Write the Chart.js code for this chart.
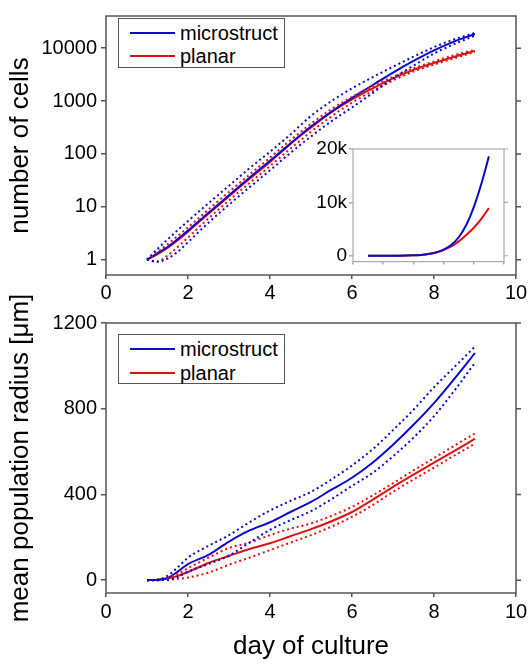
<!DOCTYPE html>
<html>
<head>
<meta charset="utf-8">
<script src="https://cdn.jsdelivr.net/npm/chart.js@4.4.0/dist/chart.umd.min.js"></script>
<style>
  body { margin: 0; background: #fff; }
  #wrap { position: relative; width: 531px; height: 666px; font-family: "Liberation Sans", Arial, sans-serif; }
  #wrap canvas { position: absolute; }
  .legend { position: absolute; width: 167px; height: 50px; box-sizing: border-box; border: 1px solid #555; background: #fff; }
  .legend .ln { position: absolute; left: 11px; width: 45px; height: 2px; }
  .legend .tx { position: absolute; left: 61px; font-size: 20px; line-height: 20px; color: #000; }
</style>
</head>
<body>
<div id="wrap">
  <canvas id="chartCells" width="531" height="310" style="left:0;top:0"></canvas>
  <canvas id="chartRadius" width="531" height="386" style="left:0;top:280px"></canvas>
  <canvas id="chartInset" width="210" height="140" style="left:300px;top:135px"></canvas>

  <div class="legend" style="left:118px;top:18px">
    <div class="ln" style="top:13px;background:#0a0acc"></div><div class="tx" style="top:4px">microstruct</div>
    <div class="ln" style="top:36px;background:#e01010"></div><div class="tx" style="top:27px">planar</div>
  </div>
  <div class="legend" style="left:118px;top:334px">
    <div class="ln" style="top:13px;background:#0a0acc"></div><div class="tx" style="top:4px">microstruct</div>
    <div class="ln" style="top:37px;background:#e01010"></div><div class="tx" style="top:28px">planar</div>
  </div>
</div>

<script>
// days of culture
const days = [1, 1.25, 1.5, 1.75, 2, 2.5, 3, 3.5, 4, 4.5, 5, 5.5, 6, 6.5, 7, 7.5, 8, 8.5, 9];

// number of cells (mean, upper, lower)
const cellsMicro   = [1, 1.32, 1.74, 2.45, 3.55, 7.76, 16.6, 35.5, 74.1, 158, 331, 631, 1148, 1995, 3467, 5754, 9120, 13490, 18620];
const cellsMicroHi = [1, 1.58, 2.4, 3.63, 5.37, 11.7, 25.1, 53.7, 110, 234, 525, 1000, 1738, 2818, 4467, 6918, 10470, 14790, 19500];
const cellsMicroLo = [1, 0.91, 1.05, 1.41, 2.14, 5.01, 11.0, 23.4, 49.0, 105, 214, 417, 759, 1413, 2692, 4677, 7943, 12020, 17380];
const cellsPlanar   = [1, 1.26, 1.66, 2.34, 3.39, 7.4, 15.8, 33.9, 70.8, 155, 316, 617, 1072, 1738, 2692, 3890, 5250, 6920, 8910];
const cellsPlanarHi = [1, 1.38, 1.95, 2.82, 4.07, 8.91, 19.1, 40.7, 85.1, 182, 372, 708, 1202, 1905, 2884, 4169, 5623, 7413, 9333];
const cellsPlanarLo = [1, 0.93, 1.2, 1.74, 2.63, 6.03, 13.2, 28.2, 58.9, 126, 263, 513, 933, 1549, 2455, 3631, 4898, 6457, 8511];

// mean population radius [um] (mean, upper, lower)
const radMicro   = [0, 1, 10, 40, 75, 118, 180, 232, 270, 318, 365, 422, 478, 548, 632, 725, 826, 940, 1060];
const radMicroHi = [0, 2, 20, 60, 105, 160, 210, 270, 325, 370, 412, 470, 535, 610, 700, 795, 900, 995, 1090];
const radMicroLo = [0, 0, 1, 15, 40, 75, 115, 175, 235, 280, 322, 378, 440, 500, 578, 665, 765, 885, 1015];
const radPlanar   = [0, 2, 8, 20, 38, 80, 113, 145, 172, 205, 238, 275, 318, 375, 435, 492, 548, 603, 660];
const radPlanarHi = [0, 2, 10, 30, 56, 105, 150, 175, 210, 240, 265, 300, 342, 395, 452, 512, 570, 628, 685];
const radPlanarLo = [0, 0, 2, 6, 12, 35, 72, 105, 140, 175, 210, 250, 295, 350, 412, 470, 525, 582, 637];

// ticks
const dayTicks = [0, 2, 4, 6, 8, 10];
const cellTicks = [1, 10, 100, 1000, 10000];
const radiusTicks = [0, 400, 800, 1200];
const insetTicks = [0, 10000, 20000];
const insetLabels = ['0', '10k', '20k'];

const BLUE = '#0a0acc';
const RED = '#e01010';
const AXIS = '#555';

Chart.defaults.font.family = '"Liberation Sans", Arial, sans-serif';
Chart.defaults.color = '#000';

function pts(vals) {
    return days.map((d, i) => ({ x: d, y: vals[i] }));
}

function serie(vals, color, dotted) {
    return {
        data: pts(vals),
        borderColor: color,
        borderWidth: 2,
        borderDash: dotted ? [2, 3] : [],
        pointRadius: 0,
        fill: false,
        cubicInterpolationMode: 'monotone'
    };
}

// box round the plot, with outward ticks on the right side
const framePlugin = {
    id: 'frame',
    afterDraw(chart, args, opts) {
        const { ctx, chartArea: a, scales: { y } } = chart;
        ctx.save();
        ctx.strokeStyle = opts.color;
        ctx.lineWidth = opts.width;
        ctx.strokeRect(a.left, a.top, a.right - a.left, a.bottom - a.top);
        ctx.beginPath();
        y.ticks.forEach(t => {
            const py = y.getPixelForValue(t.value);
            ctx.moveTo(a.right, py);
            ctx.lineTo(a.right + opts.tick, py);
        });
        ctx.stroke();
        ctx.restore();
    }
};

function axisGrid(color, len) {
    return { drawOnChartArea: false, drawTicks: true, tickLength: len, color: color, lineWidth: 1.5 };
}

// ---- top: number of cells ----
new Chart(document.getElementById('chartCells'), {
    type: 'line',
    data: {
        datasets: [
            serie(cellsMicroHi, BLUE, true),
            serie(cellsMicroLo, BLUE, true),
            serie(cellsPlanarHi, RED, true),
            serie(cellsPlanarLo, RED, true),
            serie(cellsMicro, BLUE, false),
            serie(cellsPlanar, RED, false)
        ]
    },
    options: {
        responsive: false,
        animation: false,
        layout: { padding: { top: 5, right: 15, left: 0, bottom: 0 } },
        plugins: { legend: { display: false }, tooltip: { enabled: false }, frame: { color: AXIS, width: 1.5, tick: 5 } },
        scales: {
            x: {
                type: 'linear', min: 0, max: 10,
                afterBuildTicks: s => { s.ticks = dayTicks.map(v => ({ value: v })); },
                afterFit: s => { s.height = 35; },
                grid: axisGrid(AXIS, 4),
                border: { display: false },
                ticks: { font: { size: 20 }, padding: 2, maxRotation: 0 }
            },
            y: {
                type: 'logarithmic', min: 0.513, max: 40700,
                afterBuildTicks: s => { s.ticks = cellTicks.map(v => ({ value: v })); },
                afterFit: s => { s.width = 106; },
                grid: axisGrid(AXIS, 5),
                border: { display: false },
                ticks: { font: { size: 20 }, padding: 4, callback: v => String(v) },
                title: { display: true, text: 'number of cells', font: { size: 26 }, padding: { top: 5, bottom: 0 } }
            }
        }
    },
    plugins: [framePlugin]
});

// ---- inset: number of cells, linear ----
new Chart(document.getElementById('chartInset'), {
    type: 'line',
    data: {
        datasets: [
            serie(cellsMicro, BLUE, false),
            serie(cellsPlanar, RED, false)
        ]
    },
    options: {
        responsive: false,
        animation: false,
        layout: { padding: { top: 14, right: 6, left: 0, bottom: 0 } },
        plugins: { legend: { display: false }, tooltip: { enabled: false }, frame: { color: '#aaa', width: 1.2, tick: 4 } },
        scales: {
            x: {
                type: 'linear', min: 0, max: 10,
                afterBuildTicks: s => { s.ticks = dayTicks.map(v => ({ value: v })); },
                afterFit: s => { s.height = 10; },
                grid: axisGrid('#aaa', 3),
                border: { display: false },
                ticks: { display: false }
            },
            y: {
                type: 'linear', min: -1100, max: 20000,
                afterBuildTicks: s => { s.ticks = insetTicks.map(v => ({ value: v })); },
                afterFit: s => { s.width = 53; },
                grid: axisGrid('#aaa', 4),
                border: { display: false },
                ticks: { font: { size: 19 }, padding: 2, callback: (v, i) => insetLabels[i] }
            }
        }
    },
    plugins: [framePlugin]
});

// ---- bottom: mean population radius ----
new Chart(document.getElementById('chartRadius'), {
    type: 'line',
    data: {
        datasets: [
            serie(radMicroHi, BLUE, true),
            serie(radMicroLo, BLUE, true),
            serie(radPlanarHi, RED, true),
            serie(radPlanarLo, RED, true),
            serie(radMicro, BLUE, false),
            serie(radPlanar, RED, false)
        ]
    },
    options: {
        responsive: false,
        animation: false,
        layout: { padding: { top: 43, right: 15, left: 0, bottom: 0 } },
        plugins: { legend: { display: false }, tooltip: { enabled: false }, frame: { color: AXIS, width: 1.5, tick: 5 } },
        scales: {
            x: {
                type: 'linear', min: 0, max: 10,
                afterBuildTicks: s => { s.ticks = dayTicks.map(v => ({ value: v })); },
                afterFit: s => { s.height = 73; },
                grid: axisGrid(AXIS, 4),
                border: { display: false },
                ticks: { font: { size: 20 }, padding: 3, maxRotation: 0 },
                title: { display: true, text: 'day of culture', font: { size: 26 }, padding: { top: 0, bottom: 4 } }
            },
            y: {
                type: 'linear', min: -60, max: 1200,
                afterBuildTicks: s => { s.ticks = radiusTicks.map(v => ({ value: v })); },
                afterFit: s => { s.width = 106; },
                grid: axisGrid(AXIS, 5),
                border: { display: false },
                ticks: { font: { size: 20 }, padding: 4, callback: v => String(v) },
                title: { display: true, text: 'mean population radius [μm]', font: { size: 26 }, padding: { top: 5, bottom: 0 } }
            }
        }
    },
    plugins: [framePlugin]
});
</script>
</body>
</html>
